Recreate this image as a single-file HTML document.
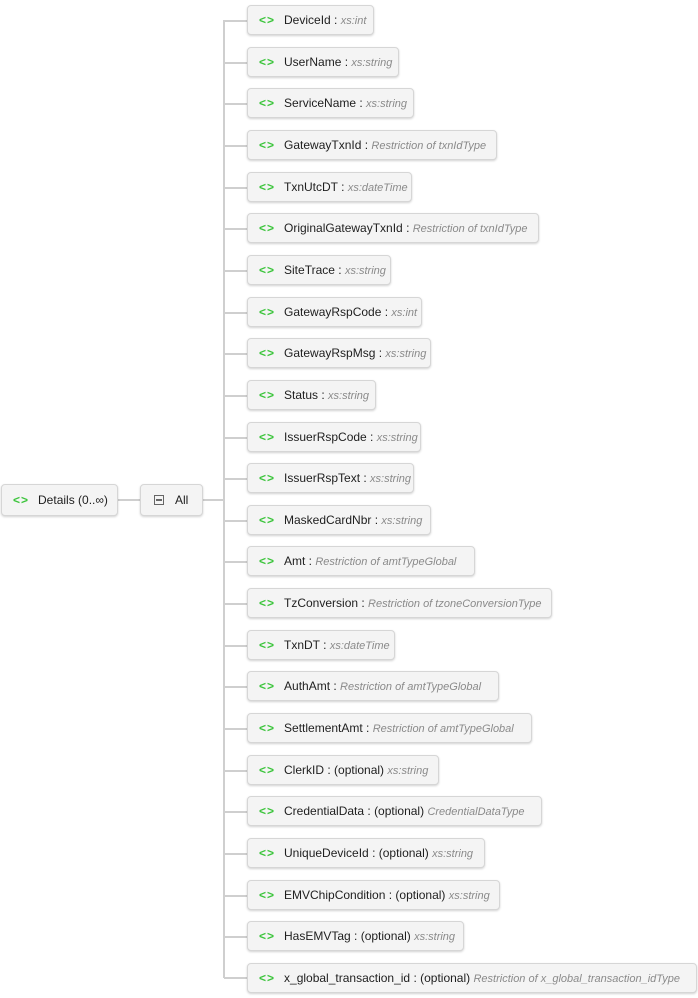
<!DOCTYPE html>
<html><head><meta charset="utf-8"><style>
body{margin:0;width:698px;height:998px;background:#fff;position:relative;overflow:hidden;font-family:"Liberation Sans",sans-serif;}
.n{position:absolute;left:247px;height:30px;box-sizing:border-box;border:1px solid #d6d6d6;border-radius:4px;background:#f4f4f4;box-shadow:0 1px 2px rgba(0,0,0,.18);white-space:nowrap;overflow:hidden;font-size:12px;line-height:28px;color:#1e1e1e;padding-left:11px;}
.i{color:#3ac43a;font-weight:bold;font-size:12px;margin-right:9px;letter-spacing:1px}
.t{color:#8a8a8a;font-style:italic;font-size:11px}
.h{position:absolute;height:2px;background:#cfcfcf}
.v{position:absolute;width:2px;background:#cfcfcf}
</style></head><body>
<div class="v" style="left:223px;top:20px;height:958px"></div>
<div class="h" style="left:117px;top:499px;width:23px"></div>
<div class="h" style="left:203px;top:499px;width:21px"></div>
<div class="n" style="left:1px;top:484px;width:117px;height:32px;line-height:30px"><span class="i">&lt;&gt;</span>Details (0..∞)</div>
<div class="n" style="left:140px;top:484px;width:63px;height:32px;line-height:30px;padding-left:13px"><span style="display:inline-block;width:10px;height:10px;border:1px solid #666;vertical-align:-1px;margin-right:11px;position:relative;box-sizing:border-box"><span style="position:absolute;left:1px;right:1px;top:3px;height:2px;border-top:1px solid #666;border-bottom:1px solid #666;box-sizing:border-box"></span></span>All</div>

<div class="h" style="left:224px;top:20px;width:23px"></div>
<div class="h" style="left:224px;top:62px;width:23px"></div>
<div class="h" style="left:224px;top:103px;width:23px"></div>
<div class="h" style="left:224px;top:145px;width:23px"></div>
<div class="h" style="left:224px;top:187px;width:23px"></div>
<div class="h" style="left:224px;top:228px;width:23px"></div>
<div class="h" style="left:224px;top:270px;width:23px"></div>
<div class="h" style="left:224px;top:312px;width:23px"></div>
<div class="h" style="left:224px;top:353px;width:23px"></div>
<div class="h" style="left:224px;top:395px;width:23px"></div>
<div class="h" style="left:224px;top:437px;width:23px"></div>
<div class="h" style="left:224px;top:478px;width:23px"></div>
<div class="h" style="left:224px;top:520px;width:23px"></div>
<div class="h" style="left:224px;top:561px;width:23px"></div>
<div class="h" style="left:224px;top:603px;width:23px"></div>
<div class="h" style="left:224px;top:645px;width:23px"></div>
<div class="h" style="left:224px;top:686px;width:23px"></div>
<div class="h" style="left:224px;top:728px;width:23px"></div>
<div class="h" style="left:224px;top:770px;width:23px"></div>
<div class="h" style="left:224px;top:811px;width:23px"></div>
<div class="h" style="left:224px;top:853px;width:23px"></div>
<div class="h" style="left:224px;top:895px;width:23px"></div>
<div class="h" style="left:224px;top:936px;width:23px"></div>
<div class="h" style="left:224px;top:977px;width:23px"></div>

<div class="n" style="top:5px;width:127px"><span class="i">&lt;&gt;</span>DeviceId : <span class="t">xs:int</span></div>
<div class="n" style="top:47px;width:152px"><span class="i">&lt;&gt;</span>UserName : <span class="t">xs:string</span></div>
<div class="n" style="top:88px;width:167px"><span class="i">&lt;&gt;</span>ServiceName : <span class="t">xs:string</span></div>
<div class="n" style="top:130px;width:250px"><span class="i">&lt;&gt;</span>GatewayTxnId : <span class="t">Restriction of txnIdType</span></div>
<div class="n" style="top:172px;width:165px"><span class="i">&lt;&gt;</span>TxnUtcDT : <span class="t">xs:dateTime</span></div>
<div class="n" style="top:213px;width:292px"><span class="i">&lt;&gt;</span>OriginalGatewayTxnId : <span class="t">Restriction of txnIdType</span></div>
<div class="n" style="top:255px;width:144px"><span class="i">&lt;&gt;</span>SiteTrace : <span class="t">xs:string</span></div>
<div class="n" style="top:297px;width:175px"><span class="i">&lt;&gt;</span>GatewayRspCode : <span class="t">xs:int</span></div>
<div class="n" style="top:338px;width:184px"><span class="i">&lt;&gt;</span>GatewayRspMsg : <span class="t">xs:string</span></div>
<div class="n" style="top:380px;width:129px"><span class="i">&lt;&gt;</span>Status : <span class="t">xs:string</span></div>
<div class="n" style="top:422px;width:174px"><span class="i">&lt;&gt;</span>IssuerRspCode : <span class="t">xs:string</span></div>
<div class="n" style="top:463px;width:167px"><span class="i">&lt;&gt;</span>IssuerRspText : <span class="t">xs:string</span></div>
<div class="n" style="top:505px;width:184px"><span class="i">&lt;&gt;</span>MaskedCardNbr : <span class="t">xs:string</span></div>
<div class="n" style="top:546px;width:228px"><span class="i">&lt;&gt;</span>Amt : <span class="t">Restriction of amtTypeGlobal</span></div>
<div class="n" style="top:588px;width:305px"><span class="i">&lt;&gt;</span>TzConversion : <span class="t">Restriction of tzoneConversionType</span></div>
<div class="n" style="top:630px;width:148px"><span class="i">&lt;&gt;</span>TxnDT : <span class="t">xs:dateTime</span></div>
<div class="n" style="top:671px;width:252px"><span class="i">&lt;&gt;</span>AuthAmt : <span class="t">Restriction of amtTypeGlobal</span></div>
<div class="n" style="top:713px;width:285px"><span class="i">&lt;&gt;</span>SettlementAmt : <span class="t">Restriction of amtTypeGlobal</span></div>
<div class="n" style="top:755px;width:192px"><span class="i">&lt;&gt;</span>ClerkID : (optional) <span class="t">xs:string</span></div>
<div class="n" style="top:796px;width:295px"><span class="i">&lt;&gt;</span>CredentialData : (optional) <span class="t">CredentialDataType</span></div>
<div class="n" style="top:838px;width:238px"><span class="i">&lt;&gt;</span>UniqueDeviceId : (optional) <span class="t">xs:string</span></div>
<div class="n" style="top:880px;width:253px"><span class="i">&lt;&gt;</span>EMVChipCondition : (optional) <span class="t">xs:string</span></div>
<div class="n" style="top:921px;width:217px"><span class="i">&lt;&gt;</span>HasEMVTag : (optional) <span class="t">xs:string</span></div>
<div class="n" style="top:963px;width:450px"><span class="i">&lt;&gt;</span>x_global_transaction_id : (optional) <span class="t">Restriction of x_global_transaction_idType</span></div>
</body></html>
